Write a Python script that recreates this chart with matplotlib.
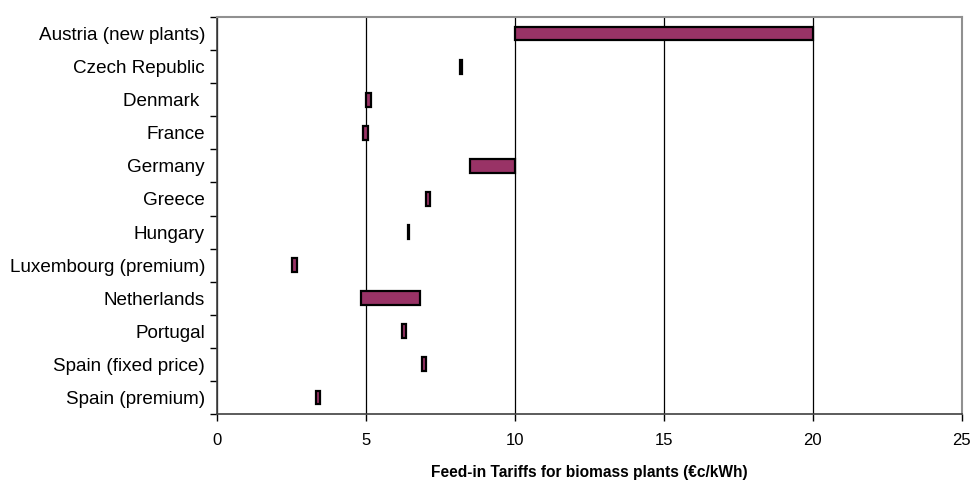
import matplotlib
matplotlib.use("Agg")
import matplotlib.pyplot as plt

plt.rcParams['font.family'] = ['Liberation Sans', 'DejaVu Sans']

countries = [
    "Austria (new plants)", "Czech Republic", "Denmark ", "France", "Germany",
    "Greece", "Hungary", "Luxembourg (premium)", "Netherlands", "Portugal",
    "Spain (fixed price)", "Spain (premium)",
]
tariff_low = [10.0, 8.15, 5.0, 4.9, 8.5, 7.0, 6.4, 2.52, 4.82, 6.2, 6.86, 3.32]
tariff_high = [20.0, 8.2, 5.15, 5.05, 10.0, 7.14, 6.45, 2.66, 6.8, 6.34, 7.0, 3.46]
x_ticks = [0, 5, 10, 15, 20, 25]

fig = plt.figure(figsize=(9.73, 4.84), dpi=100)
ax = fig.add_axes([0.2235, 0.1446, 0.7647, 0.8203])

n = len(countries)
ypos = list(range(n))
widths = [h - l for l, h in zip(tariff_low, tariff_high)]
ax.barh(ypos, widths, left=tariff_low, height=0.42, color="#993366",
        edgecolor="black", linewidth=1.6, zorder=3)

ax.set_xlim(0, 25)
ax.set_ylim(n - 0.5, -0.5)
ax.set_xticks(x_ticks)
ax.set_xticklabels([str(t) for t in x_ticks], fontsize=12)

# category labels centred, tick marks on category boundaries
ax.set_yticks(ypos)
ax.set_yticklabels(countries, fontsize=13.6)
ax.tick_params(axis='y', which='major', length=0, pad=9)
ax.set_yticks([i - 0.5 for i in range(n + 1)], minor=True)
ax.tick_params(axis='y', which='minor', length=5, width=1, direction='out')
ax.tick_params(axis='x', length=5, width=1, direction='out', pad=9)

ax.xaxis.grid(True, color="black", linewidth=0.9, zorder=1)
ax.set_axisbelow(True)

for side in ("top", "right"):
    ax.spines[side].set_color("#909090")
    ax.spines[side].set_linewidth(1.5)
for side in ("left", "bottom"):
    ax.spines[side].set_color("#404040")
    ax.spines[side].set_linewidth(1.2)

ax.set_xlabel("Feed-in Tariffs for biomass plants (€c/kWh)", fontsize=11.2,
              fontweight="bold", labelpad=12)

fig.savefig("out.png", dpi=100)
